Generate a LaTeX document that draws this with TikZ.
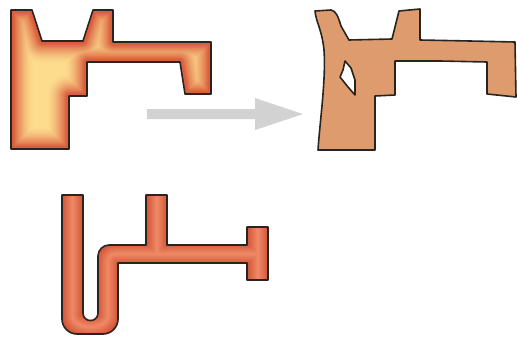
\documentclass[tikz,border=0pt]{standalone}
\definecolor{inkline}{HTML}{2A2420}
\definecolor{hotedge}{HTML}{DB5E3E}
\definecolor{hotcore}{HTML}{FDDC8E}
\definecolor{sand}{HTML}{DE9B6E}
\definecolor{pipeedge}{HTML}{D5593B}
\definecolor{pipecore}{HTML}{EE8864}
\definecolor{arrowgray}{HTML}{D2D2D2}
\begin{document}
\begin{tikzpicture}[x=1pt,y=-1pt,
  outline/.style={draw=inkline, line width=1.6pt, line join=round},
  shadeband/.style={line join=round, line cap=round}]
\useasboundingbox (0,0) rectangle (517,340);

% ---- hot casting: glowing section ----
\def\castpath{(11,10) -- (32,10) -- (42,41) -- (83,41) -- (93,10) -- (113,10) -- (113,42) -- (211,42) -- (211,94) -- (185,94) -- (180,62) -- (87,62) -- (87,96) -- (69,96) -- (69,149) -- (11,149) -- cycle}
\begin{scope}
  \clip \castpath;
  \fill[hotcore] \castpath;
  \foreach \i in {0,...,23} {
    \pgfmathsetmacro{\lw}{48-2*\i}
    \pgfmathtruncatemacro{\mix}{100*min(1,\i/21)^1.7}
    \draw[shadeband, line width=\lw pt, draw=hotedge!\mix!hotcore] \castpath;
  }
\end{scope}
\draw[outline] \castpath;

% ---- process arrow ----
\fill[arrowgray] (147,109) -- (255,109) -- (255,98) -- (303,114) -- (255,130) -- (255,119) -- (147,119) -- cycle;

% ---- cooled casting with shrinkage cavity ----
\fill[sand, outline] (315,11) -- (331,10) .. controls (336,11) and (338,16) .. (341,26) -- (349,40) -- (392,39)
  -- (399,11) -- (420,9) -- (420,40) -- (470,41) -- (515,42) -- (516,97) -- (487,94) -- (487,62)
  -- (440,61) -- (395,61) -- (395,95) -- (375,96) -- (375,150) -- (318,150)
  .. controls (320,120) and (326,80) .. (324,50) .. controls (322,30) and (316,22) .. (315,11) -- cycle;
\fill[white, outline] (345,61) -- (351,68) -- (355,80) -- (355,95) -- (348,87) -- (340,77) -- (343,70) -- cycle;

% ---- pipe-shaped casting ----
\def\pipepath{(62,195) -- (83,195) -- (83,313) .. controls (83,323) and (98,323) .. (98,313)
  -- (98,256) .. controls (98,250) and (103,245) .. (109,245) -- (146,245) -- (146,195) -- (167,195)
  -- (167,245) -- (247,245) -- (247,227) -- (268,227) -- (268,280) -- (247,280) -- (247,263)
  -- (118,263) -- (118,319) .. controls (118,327.25) and (111.25,334) .. (103,334) -- (77,334)
  .. controls (68.75,334) and (62,327.25) .. (62,319) -- cycle}
\begin{scope}
  \clip \pipepath;
  \fill[pipeedge] \pipepath;
  \foreach \i in {0,...,9} {
    \pgfmathsetmacro{\lw}{20-2*\i}
    \pgfmathtruncatemacro{\mix}{100*\i/9}
    \draw[shadeband, line width=\lw pt, draw=pipecore!\mix!pipeedge]
      (72.5,185) -- (72.5,315) .. controls (72.5,331) and (108,331) .. (108,315)
      -- (108,262) .. controls (108,257) and (111,254) .. (116,254) -- (257.5,254);
    \draw[shadeband, line width=\lw pt, draw=pipecore!\mix!pipeedge] (156.5,185) -- (156.5,254);
    \draw[shadeband, line width=\lw pt, draw=pipecore!\mix!pipeedge] (257.5,220) -- (257.5,287);
  }
\end{scope}
\draw[outline] \pipepath;
\end{tikzpicture}
\end{document}
